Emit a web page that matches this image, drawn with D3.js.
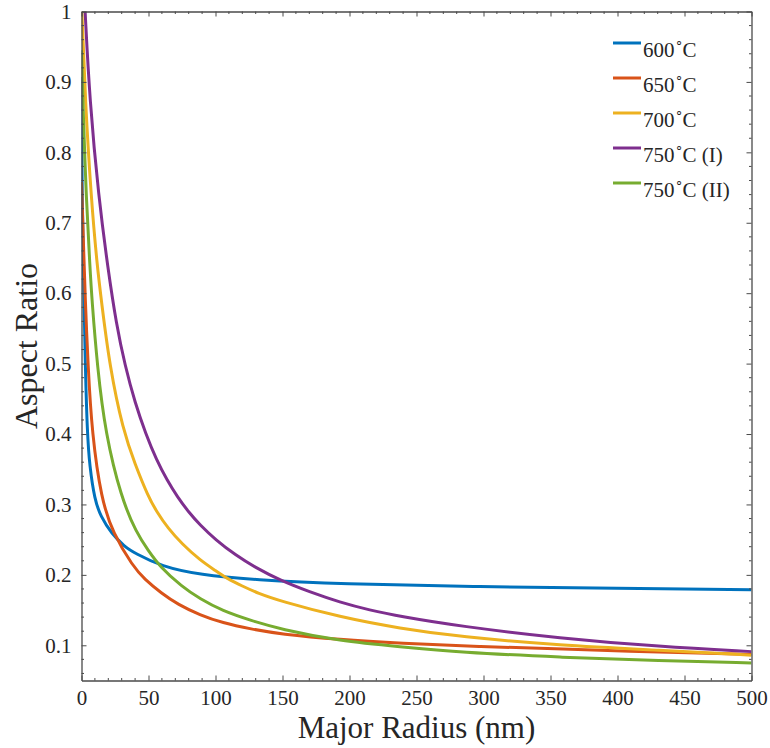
<!DOCTYPE html>
<html>
<head>
<meta charset="utf-8">
<script src="https://cdn.jsdelivr.net/npm/d3@7/dist/d3.min.js"></script>
<style>
  body { margin: 0; background: #fff; }
  text { font-family: "Liberation Serif", "Times New Roman", serif; fill: #262626; }
</style>
</head>
<body>
<svg id="chart" width="770" height="748"></svg>
<script>
// Aspect ratio vs. major radius for each annealing temperature
const seriesLabels = ["600", "650", "700", "750", "750"];
const seriesSuffix = ["", "", "", " (I)", " (II)"];
const seriesColors = ["#0072BD", "#D95319", "#EDB120", "#7E2F8E", "#77AC30"];

const radius600 = [0, 0.4, 1.9, 2.8, 4.3, 6.1, 9.8, 14.3, 22.3, 32.2, 39.7, 59.6, 88.4, 129.3, 192.9, 297.4, 400, 500];
const ratio600  = [0.907, 0.732, 0.59, 0.50, 0.401, 0.354, 0.307, 0.283, 0.259, 0.240, 0.231, 0.212, 0.200, 0.193, 0.187, 0.183, 0.181, 0.179];

const radius650 = [0, 1.2, 2.8, 4.9, 7.8, 14.8, 23.5, 38.4, 47, 59.6, 72, 88.4, 105, 126.7, 148.1, 192.9, 237.7, 297.4, 357, 431.7, 500];
const ratio650  = [0.758, 0.685, 0.59, 0.496, 0.401, 0.307, 0.259, 0.212, 0.194, 0.174, 0.158, 0.143, 0.132, 0.123, 0.116, 0.108, 0.103, 0.098, 0.095, 0.090, 0.087];

const radius700 = [0.3, 2.8, 7.3, 11.8, 14.8, 21, 31, 40, 49.6, 56, 64.6, 75, 88.4, 100, 108.4, 120, 131.7, 148.1, 192.9, 237.7, 282.5, 357, 431.7, 500];
const ratio700  = [1.0, 0.874, 0.732, 0.637, 0.59, 0.496, 0.405, 0.357, 0.312, 0.290, 0.266, 0.244, 0.221, 0.206, 0.195, 0.184, 0.174, 0.163, 0.140, 0.124, 0.112, 0.100, 0.093, 0.086];

const radius750a = [2.7, 6.1, 12.8, 19.8, 26, 32.5, 40, 48, 56, 64, 71.5, 80, 88.4, 100, 115, 129.3, 148.5, 170, 192.9, 215, 237.7, 282.5, 357, 431.7, 500];
const ratio750a  = [1.0, 0.874, 0.736, 0.634, 0.556, 0.497, 0.444, 0.400, 0.363, 0.334, 0.311, 0.289, 0.271, 0.250, 0.228, 0.211, 0.192, 0.176, 0.161, 0.150, 0.141, 0.127, 0.110, 0.098, 0.091];

const radius750b = [0, 1.2, 3.6, 6.3, 7.8, 11.8, 17.8, 29.7, 40.9, 50, 58.3, 75, 88.4, 105, 126.7, 148.1, 192.9, 237.7, 282.5, 357, 431.7, 500];
const ratio750b  = [0.945, 0.86, 0.732, 0.637, 0.59, 0.496, 0.401, 0.309, 0.260, 0.234, 0.212, 0.183, 0.166, 0.149, 0.135, 0.123, 0.106, 0.098, 0.090, 0.083, 0.078, 0.075];

const xTickValues = [0, 50, 100, 150, 200, 250, 300, 350, 400, 450, 500];
const yTickValues = [0.1, 0.2, 0.3, 0.4, 0.5, 0.6, 0.7, 0.8, 0.9, 1];
const yTickLabels = ["0.1", "0.2", "0.3", "0.4", "0.5", "0.6", "0.7", "0.8", "0.9", "1"];

const radii = [radius600, radius650, radius700, radius750a, radius750b];
const ratios = [ratio600, ratio650, ratio700, ratio750a, ratio750b];
const series = radii.map((r, i) => r.map((v, j) => ({ x: v, y: ratios[i][j] })));

const svg = d3.select("#chart");
const plotLeft = 81.5, plotRight = 751.5, plotTop = 11.5, plotBottom = 680.5;
const serif = "'Liberation Serif', 'Times New Roman', serif";

const x = d3.scaleLinear().domain([0, 500]).range([plotLeft, plotRight]);
const y = d3.scaleLinear().domain([0.05, 1]).range([plotBottom, plotTop]);

svg.append("defs").append("clipPath").attr("id", "plotClip")
  .append("rect").attr("x", plotLeft).attr("y", plotTop)
  .attr("width", plotRight - plotLeft).attr("height", plotBottom - plotTop);

// curves
const line = d3.line().x(d => x(d.x)).y(d => y(d.y)).curve(d3.curveBasis);
svg.append("g").attr("clip-path", "url(#plotClip)")
  .selectAll("path").data(series).join("path")
  .attr("d", line)
  .attr("fill", "none")
  .attr("stroke", (d, i) => seriesColors[i])
  .attr("stroke-width", 3)
  .attr("stroke-linejoin", "round");

// box axes with inward ticks
const axisColor = "#4a4a4a";
const xMinor = d3.range(0, 501, 10).filter(v => v % 50 !== 0);
const yMinor = d3.range(6, 100, 2).map(v => v / 100).filter(v => Math.round(v * 100) % 10 !== 0);

function styleAxis(g) {
  g.attr("font-family", serif);
  g.select(".domain").attr("stroke", axisColor).attr("stroke-width", 1.3);
  g.selectAll(".tick line").attr("stroke", axisColor).attr("stroke-width", 1);
}

const bottomAxis = svg.append("g").attr("transform", `translate(0,${plotBottom})`)
  .call(d3.axisBottom(x).tickValues(xTickValues).tickSizeInner(-5).tickSizeOuter(0).tickPadding(10).tickFormat(d3.format("d")));
bottomAxis.call(styleAxis);
bottomAxis.selectAll("text").attr("font-size", 21).attr("fill", "#262626");

const topAxis = svg.append("g").attr("transform", `translate(0,${plotTop})`)
  .call(d3.axisTop(x).tickValues(xTickValues).tickSizeInner(-5).tickSizeOuter(0).tickFormat(""));
topAxis.call(styleAxis);

const leftAxis = svg.append("g").attr("transform", `translate(${plotLeft},0)`)
  .call(d3.axisLeft(y).tickValues(yTickValues).tickSizeInner(-5).tickSizeOuter(0).tickPadding(10)
    .tickFormat((d, i) => yTickLabels[i]));
leftAxis.call(styleAxis);
leftAxis.selectAll("text").attr("font-size", 21).attr("fill", "#262626");

const rightAxis = svg.append("g").attr("transform", `translate(${plotRight},0)`)
  .call(d3.axisRight(y).tickValues(yTickValues).tickSizeInner(-5).tickSizeOuter(0).tickFormat(""));
rightAxis.call(styleAxis);

// minor ticks
const minor = svg.append("g").attr("stroke", axisColor).attr("stroke-width", 1);
xMinor.forEach(v => {
  minor.append("line").attr("x1", x(v)).attr("x2", x(v)).attr("y1", plotBottom).attr("y2", plotBottom - 2.5);
  minor.append("line").attr("x1", x(v)).attr("x2", x(v)).attr("y1", plotTop).attr("y2", plotTop + 2.5);
});
yMinor.forEach(v => {
  minor.append("line").attr("y1", y(v)).attr("y2", y(v)).attr("x1", plotLeft).attr("x2", plotLeft + 2.5);
  minor.append("line").attr("y1", y(v)).attr("y2", y(v)).attr("x1", plotRight).attr("x2", plotRight - 2.5);
});

// axis titles
svg.append("text")
  .attr("x", (plotLeft + plotRight) / 2).attr("y", 738)
  .attr("text-anchor", "middle").attr("font-size", 31).attr("font-family", serif)
  .text("Major Radius (nm)");

svg.append("text")
  .attr("transform", `translate(37,${(plotTop + plotBottom) / 2}) rotate(-90)`)
  .attr("text-anchor", "middle").attr("font-size", 32).attr("font-family", serif)
  .text("Aspect Ratio");

// legend
const legend = svg.append("g").attr("transform", "translate(613,43)");
seriesLabels.forEach((lab, i) => {
  const row = legend.append("g").attr("transform", `translate(0,${i * 35})`);
  row.append("line").attr("x1", 0).attr("x2", 28).attr("y1", 0).attr("y2", 0)
    .attr("stroke", seriesColors[i]).attr("stroke-width", 3);
  const t = row.append("text").attr("x", 30).attr("y", 14).attr("font-size", 21).attr("font-family", serif);
  t.append("tspan").text(lab);
  t.append("tspan").attr("dy", -11).attr("font-size", 13).text("∘");
  t.append("tspan").attr("dy", 11).text("C" + seriesSuffix[i]);
});
</script>
</body>
</html>
